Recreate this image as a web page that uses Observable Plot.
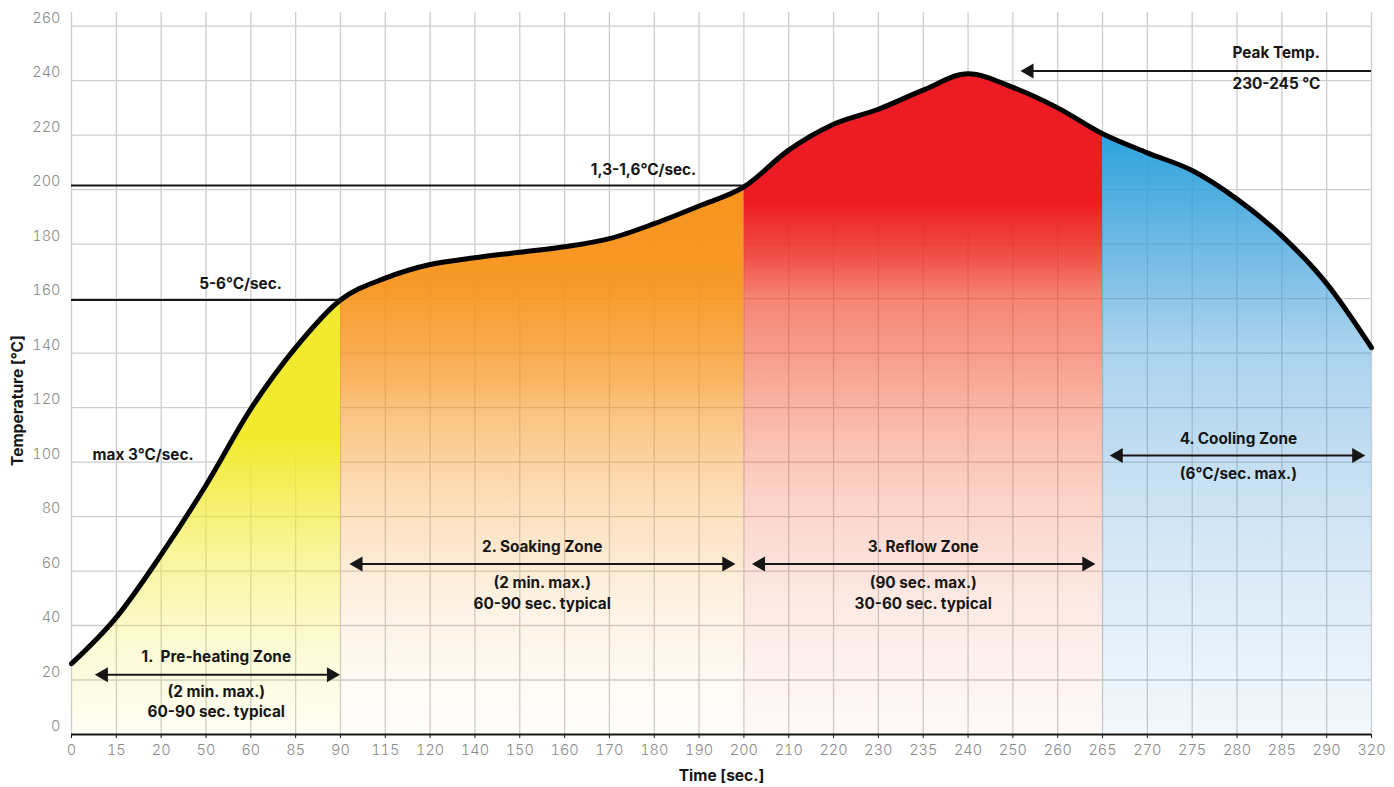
<!DOCTYPE html>
<html>
<head>
<meta charset="utf-8">
<script src="https://cdn.jsdelivr.net/npm/d3@7"></script>
<script src="https://cdn.jsdelivr.net/npm/@observablehq/plot@0.6"></script>
<style>
  body { margin: 0; background: #fff; }
  #chart svg { display: block; }
  g[aria-label="x-axis tick label"], g[aria-label="y-axis tick label"] { font-weight: 300; }
</style>
</head>
<body>
<div id="chart"></div>
<script>
// ---------- data ----------
const timeLabels = [0, 15, 20, 50, 60, 85, 90, 115, 120, 140, 150, 160, 170, 180, 190, 200, 210, 220, 230, 235, 240, 250, 260, 265, 270, 275, 280, 285, 290, 320];
const temperatures = [26, 43, 66, 91.5, 119.5, 142, 159.5, 167.5, 172.5, 175, 177, 179, 182, 187.5, 194, 201, 214.5, 224, 229.5, 236.5, 242.5, 237.5, 230, 220.5, 213.5, 207, 196.5, 183, 165.5, 142];
const yTicks = [0, 20, 40, 60, 80, 100, 120, 140, 160, 180, 200, 220, 240, 260];

// zone index bounds (positions on the time axis)
const zoneStart = [0, 6, 15, 23];
const zoneEnd = [6, 15, 23, 29];
const zoneTitles = ["1.\u00a0 Pre-heating Zone", "2. Soaking Zone", "3. Reflow Zone", "4. Cooling Zone"];
const zoneLimits = ["(2 min. max.)", "(2 min. max.)", "(90 sec. max.)", "(6°C/sec. max.)"];
const zoneTypical = ["60-90 sec. typical", "60-90 sec. typical", "30-60 sec. typical", ""];
const zoneLabelX = [3.23, 10.5, 19.0, 26.03];
const zoneTitleY = [28.3, 68.7, 68.7, 108.3];
const zoneLimitY = [15.5, 55.7, 55.7, 95.4];
const zoneTypicalY = [8.4, 48.0, 48.0, 0];
const zoneArrowY = [21.9, 62.6, 62.6, 102.4];
const zoneArrowX1 = [0.52, 6.2, 15.18, 23.16];
const zoneArrowX2 = [5.99, 14.81, 22.84, 28.86];

// rate lines
const rateLineY = [159.5, 201.5];
const rateLineX2 = [6, 15];
const rateLabels = ["5-6°C/sec.", "1,3-1,6°C/sec."];
const rateLabelX = [3.77, 12.76];
const rateLabelY = [165.4, 207.3];

// peak arrow
const peakArrow = {y: 243.5, x1: 29, x2: 21.17};
const peakLabels = ["Peak Temp.", "230-245 °C"];
const peakLabelY = [250.1, 238.6];
const peakLabelX = 25.9;

const rampLabel = {x: 0.47, y: 102.4, text: "max 3°C/sec."};

// ---------- derived tables ----------
const data = temperatures.map((t, i) => ({i, t}));
const zones = zoneTitles.map((title, k) => ({
  k, title, limit: zoneLimits[k], typical: zoneTypical[k],
  lx: zoneLabelX[k], ty: zoneTitleY[k], ly: zoneLimitY[k], py: zoneTypicalY[k],
  ay: zoneArrowY[k], ax1: zoneArrowX1[k], ax2: zoneArrowX2[k]
}));
const shafts = zones.map(z => ({y: z.ay, x1: z.ax1 + 0.15, x2: z.ax2 - 0.15}));
shafts.push({y: peakArrow.y, x1: peakArrow.x2 + 0.15, x2: peakArrow.x1});
const leftTips = zones.map(z => ({x: z.ax1, y: z.ay})).concat([{x: peakArrow.x2, y: peakArrow.y}]);
const rightTips = zones.map(z => ({x: z.ax2, y: z.ay}));
const rates = rateLabels.map((text, k) => ({text, x: rateLabelX[k], y: rateLabelY[k], ly: rateLineY[k], x2: rateLineX2[k]}));
const peaks = peakLabels.map((text, k) => ({text, x: peakLabelX, y: peakLabelY[k]}));

// ---------- styles ----------
// gradient stops: [temperature level, colour, opacity]
const zoneStops = [
  [[160, "#f2ea2f", 1], [108, "#f2ea2f", 1], [85, "#f2ea2f", 0.7], [63, "#f2ea2f", 0.45], [30, "#f2ea2f", 0.19], [0, "#f2ea2f", 0.05]],
  [[201, "#f7941d", 1], [165, "#f7941d", 0.95], [130, "#f7941d", 0.7], [121, "#f7941d", 0.58], [85, "#f7941d", 0.3], [48, "#f7941d", 0.12], [12, "#f7941d", 0.035], [0, "#f7941d", 0.02]],
  [[243, "#ed1c24", 1], [195, "#ed1c24", 1], [175, "#ee2b22", 0.82], [160, "#ef3a20", 0.62], [123, "#f0441d", 0.42], [86, "#f04a1c", 0.24], [49, "#f04a1c", 0.12], [12, "#f04a1c", 0.05], [0, "#f04a1c", 0.03]],
  [[221, "#2aa3dc", 1], [178, "#3a9fdb", 0.72], [143, "#2b90d4", 0.4], [85, "#2b88d0", 0.24], [48, "#2b88d0", 0.15], [12, "#2b88d0", 0.08], [0, "#2b88d0", 0.06]]
];
const W = 1394, H = 787, YMAX = 265;
const ink = "#161616";
const grid = "#cdcdcd";
const font = "Inter, 'Noto Sans', 'DejaVu Sans', sans-serif";
const FS = 15.3;
const curve = "monotone-x";
const NS = "http://www.w3.org/2000/svg";
const el = (name, attrs = {}) => {
  const e = document.createElementNS(NS, name);
  for (const [k, v] of Object.entries(attrs)) e.setAttribute(k, v);
  return e;
};

// defs: vertical gradients (in data units of y) and zone clip rectangles (in x)
function zoneDefs(index, scales) {
  const defs = el("defs");
  zones.forEach(z => {
    const g = el("linearGradient", {id: `zone-grad-${z.k}`, gradientUnits: "userSpaceOnUse", x1: 0, x2: 0, y1: scales.y(YMAX), y2: scales.y(0)});
    zoneStops[z.k].forEach(([v, c, o]) => g.append(el("stop", {offset: (YMAX - v) / YMAX, "stop-color": c, "stop-opacity": o})));
    defs.append(g);
    const a = scales.x(zoneStart[z.k]), b = scales.x(zoneEnd[z.k]);
    const cp = el("clipPath", {id: `zone-clip-${z.k}`});
    cp.append(el("rect", {x: a, y: 0, width: b - a, height: H}));
    defs.append(cp);
  });
  return defs;
}

const zoneArea = z => Plot.areaY(data, {
  x: "i", y: "t", curve, fill: `url(#zone-grad-${z.k})`,
  render(index, scales, values, dimensions, context, next) {
    const g = next(index, scales, values, dimensions, context);
    g.setAttribute("clip-path", `url(#zone-clip-${z.k})`);
    return g;
  }
});

const chart = Plot.plot({
  width: W,
  height: H,
  marginLeft: 71,
  marginRight: 23,
  marginTop: 12,
  marginBottom: 53,
  style: {fontFamily: font, background: "#fff"},
  x: {domain: [0, timeLabels.length - 1]},
  y: {domain: [0, YMAX]},
  marks: [
    zoneDefs,
    Plot.ruleX(d3.range(timeLabels.length), {x: d => d, y1: 0, y2: YMAX, stroke: grid, strokeWidth: 1.3}),
    Plot.ruleY(yTicks.filter(d => d > 0), {y: d => d, x1: 0, x2: timeLabels.length - 1, stroke: grid, strokeWidth: 1.3}),
    ...zones.map(zoneArea),
    Plot.ruleY([0], {x1: 0, x2: timeLabels.length - 1, stroke: ink, strokeWidth: 2}),
    Plot.axisX({ticks: d3.range(timeLabels.length), tickFormat: i => timeLabels[i], tickSize: 4, tickPadding: 6, stroke: ink, fill: "#8a8a8a", fontSize: 14.5, label: null}),
    Plot.axisY({ticks: yTicks, tickSize: 0, tickPadding: 11, dy: -8, fill: "#8a8a8a", fontSize: 14.5, label: null}),
    Plot.line(data, {x: "i", y: "t", curve, stroke: "#000", strokeWidth: 5, strokeLinejoin: "round", strokeLinecap: "round"}),
    // rate lines
    Plot.ruleY(rates, {y: "ly", x1: 0, x2: "x2", stroke: ink, strokeWidth: 2}),
    Plot.text(rates, {x: "x", y: "y", text: "text", fontSize: FS, fontWeight: 700, fill: ink}),
    Plot.text([rampLabel], {x: "x", y: "y", text: "text", textAnchor: "start", fontSize: FS, fontWeight: 700, fill: ink}),
    // arrows
    Plot.ruleY(shafts, {y: "y", x1: "x1", x2: "x2", stroke: ink, strokeWidth: 2}),
    Plot.dot(leftTips, {x: "x", y: "y", symbol: "triangle", r: 5.6, rotate: -90, dx: 8.7, fill: ink}),
    Plot.dot(rightTips, {x: "x", y: "y", symbol: "triangle", r: 5.6, rotate: 90, dx: -8.7, fill: ink}),
    Plot.text(peaks, {x: "x", y: "y", text: "text", textAnchor: "start", fontSize: FS, fontWeight: 700, fill: ink}),
    // zone labels
    Plot.text(zones, {x: "lx", y: "ty", text: "title", fontSize: FS, fontWeight: 700, fill: ink}),
    Plot.text(zones, {x: "lx", y: "ly", text: "limit", fontSize: FS, fontWeight: 700, fill: ink}),
    Plot.text(zones.filter(z => z.typical), {x: "lx", y: "py", text: "typical", fontSize: FS, fontWeight: 700, fill: ink}),
    // axis titles
    Plot.text(["Temperature [°C]"], {frameAnchor: "left", textAnchor: "middle", lineAnchor: "middle", dx: -53, dy: 27, rotate: -90, fontSize: 15.5, fontWeight: 700, fill: ink}),
    Plot.text(["Time [sec.]"], {frameAnchor: "bottom", textAnchor: "middle", lineAnchor: "middle", dy: 42, fontSize: 15.5, fontWeight: 700, fill: ink})
  ]
});
document.getElementById("chart").append(chart);
</script>
</body>
</html>
